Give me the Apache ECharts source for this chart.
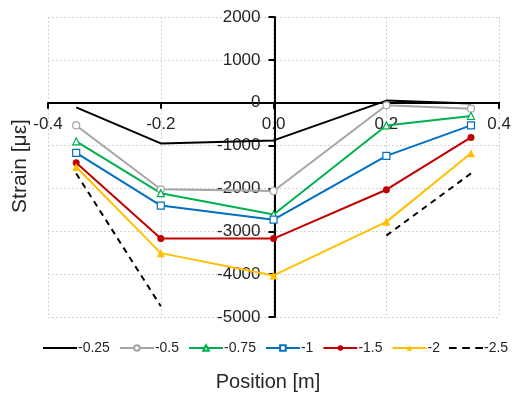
<!DOCTYPE html>
<html>
<head>
<meta charset="utf-8">
<script src="https://cdn.jsdelivr.net/npm/echarts@6/dist/echarts.min.js"></script>
<style>
  html, body { margin: 0; padding: 0; background: #fff; }
  #chart { width: 514px; height: 394px; }
</style>
</head>
<body>
<div id="chart"></div>
<script>
// Gauge positions along the section [m]
var positions = [-0.35, -0.2, 0, 0.2, 0.35];

// Measured strain [με] for each load step
var s025 = [-110, -950, -880, 50, -20];
var s05  = [-530, -2020, -2060, -60, -140];
var s075 = [-900, -2110, -2610, -530, -310];
var s1   = [-1170, -2400, -2730, -1240, -530];
var s15  = [-1400, -3170, -3170, -2030, -810];
var s2   = [-1500, -3510, -4030, -2780, -1180];
var s25  = [-1650, -4750, null, -3100, -1650];

var seriesNames = ['-0.25', '-0.5', '-0.75', '-1', '-1.5', '-2', '-2.5'];

// Axis ranges
var xMin = -0.4, xMax = 0.4, xStep = 0.2;
var yMin = -5000, yMax = 2000, yStep = 1000;

function pairs(vals) {
  return positions.map(function (x, i) { return [x, vals[i]]; });
}

var FONT = '"Liberation Sans", Arial, sans-serif';
var W = 514, H = 394;
var G = { left: 48, right: 13, top: 17, bottom: 77 };
var gw = W - G.left - G.right, gh = H - G.top - G.bottom;

// The axes cross at the origin: shift each axis (line, ticks and labels) onto zero
var xAxisShift = -gh * (0 - yMin) / (yMax - yMin);
var yAxisShift = -gw * (0 - xMin) / (xMax - xMin);

var chart = echarts.init(document.getElementById('chart'), null, { renderer: 'canvas' });

function lineSeries(name, vals, color, symbol, size, hollow, dashed) {
  return {
    name: name,
    type: 'line',
    data: pairs(vals),
    connectNulls: false,
    symbol: symbol,
    symbolSize: size,
    showSymbol: symbol !== 'none',
    lineStyle: { color: color, width: 2, type: dashed ? [6, 5] : 'solid' },
    itemStyle: {
      color: hollow ? '#ffffff' : color,
      borderColor: color,
      borderWidth: hollow ? 1.2 : 0
    },
    emphasis: { disabled: true },
    animation: false
  };
}

var gridLine = { show: true, lineStyle: { color: '#d4d4d4', type: [2, 2], width: 1 } };

var option = {
  animation: false,
  backgroundColor: '#ffffff',
  grid: { left: G.left, right: G.right, top: G.top, bottom: G.bottom, containLabel: false },
  xAxis: {
    type: 'value',
    min: xMin,
    max: xMax,
    interval: xStep,
    offset: xAxisShift,
    axisLine: { onZero: false, lineStyle: { color: '#000', width: 2 } },
    axisTick: { show: true, length: 6, lineStyle: { color: '#000', width: 2 } },
    axisLabel: {
      margin: 13,
      color: '#262626',
      fontSize: 17,
      fontFamily: FONT,
      formatter: function (v) { return v.toFixed(1); }
    },
    splitLine: gridLine
  },
  yAxis: {
    type: 'value',
    min: yMin,
    max: yMax,
    interval: yStep,
    offset: yAxisShift,
    axisLine: { onZero: false, lineStyle: { color: '#000', width: 2 } },
    axisTick: { show: true, length: 6, lineStyle: { color: '#000', width: 2 } },
    axisLabel: {
      margin: 14,
      color: '#262626',
      fontSize: 17,
      fontFamily: FONT,
      formatter: function (v) { return String(v); }
    },
    splitLine: gridLine
  },
  legend: {
    bottom: 34,
    left: 38,
    itemWidth: 34,
    itemHeight: 7,
    itemGap: 9,
    textStyle: { fontSize: 14, color: '#262626', fontFamily: FONT, padding: [0, 0, 0, -4] },
    data: [
      { name: '-0.25', icon: 'path://M0,0H34V2H0Z' },
      '-0.5', '-0.75', '-1', '-1.5', '-2',
      { name: '-2.5', icon: 'path://M0,0h7v2h-7zM12,0h7v2h-7zM24,0h7v2h-7z' }
    ]
  },
  graphic: [
    {
      type: 'text',
      x: 20, y: 166,
      rotation: Math.PI / 2,
      style: {
        text: 'Strain [με]',
        font: '21px ' + FONT,
        fill: '#262626',
        textAlign: 'center',
        textVerticalAlign: 'middle'
      }
    },
    {
      type: 'text',
      x: 268, y: 382,
      style: {
        text: 'Position [m]',
        font: '20px ' + FONT,
        fill: '#262626',
        textAlign: 'center',
        textVerticalAlign: 'middle'
      }
    }
  ],
  series: [
    lineSeries(seriesNames[0], s025, '#000000', 'none', 0, false, false),
    lineSeries(seriesNames[1], s05, '#a5a5a5', 'circle', 7, true, false),
    lineSeries(seriesNames[2], s075, '#00b050', 'triangle', 7, true, false),
    lineSeries(seriesNames[3], s1, '#0070c0', 'rect', 7, true, false),
    lineSeries(seriesNames[4], s15, '#c00000', 'circle', 7, false, false),
    lineSeries(seriesNames[5], s2, '#ffc000', 'triangle', 8, false, false),
    lineSeries(seriesNames[6], s25, '#000000', 'none', 0, false, true)
  ]
};

chart.setOption(option);
</script>
</body>
</html>
